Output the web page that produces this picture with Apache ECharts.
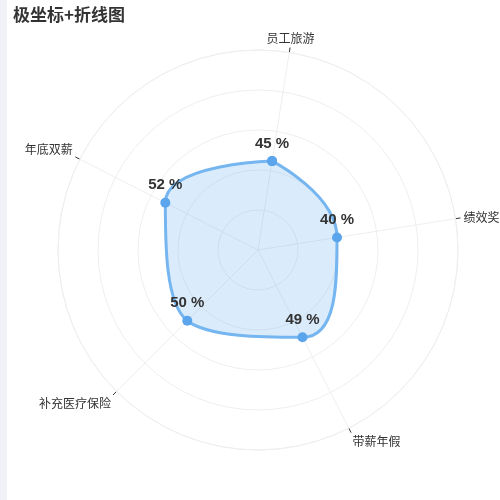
<!DOCTYPE html>
<html>
<head>
<meta charset="utf-8">
<script src="https://cdn.jsdelivr.net/npm/echarts@6/dist/echarts.min.js"></script>
<style>
html,body{margin:0;padding:0;background:#fff;}
#strip{position:absolute;left:0;top:0;width:7px;height:500px;background:#f1f2f7;}
#main{position:absolute;left:0;top:0;width:500px;height:500px;}
</style>
</head>
<body>
<div id="strip"></div>
<div id="main"></div>
<script>
const titleText = '极坐标+折线图';
const categories = ['员工旅游', '年底双薪', '补充医疗保险', '带薪年假', '绩效奖'];
const values = [45, 52, 50, 49, 40];

// closed loop: each point is [radius value, category position]; the first point is repeated one full turn later
const loopData = values.map((v, i) => [v, i]);
loopData.push([values[0], categories.length]);

const chart = echarts.init(document.getElementById('main'));
chart.setOption({
  animation: false,
  title: {
    text: titleText,
    left: 8,
    top: 1,
    textStyle: { fontSize: 17, fontWeight: 'bold', color: '#333', fontFamily: 'Noto Sans CJK SC' }
  },
  polar: { center: ['51.6%', '50%'], radius: '80%' },
  angleAxis: {
    type: 'value',
    min: 0,
    max: categories.length,
    interval: 1,
    startAngle: 81,
    clockwise: false,
    axisLine: { show: true, lineStyle: { color: '#eeeeee' } },
    axisTick: { show: true, length: 5, lineStyle: { color: '#333' } },
    axisLabel: {
      color: '#333', fontSize: 12, fontFamily: 'Noto Sans CJK SC', margin: 8,
      formatter: function (v) { return categories[v] || ''; }
    },
    splitLine: { show: true, lineStyle: { color: '#eeeeee' } }
  },
  radiusAxis: {
    min: 0,
    max: 100,
    interval: 20,
    axisLine: { show: false },
    axisTick: { show: false },
    axisLabel: { show: false },
    splitLine: { show: true, lineStyle: { color: '#eeeeee' } }
  },
  series: [{
    type: 'line',
    coordinateSystem: 'polar',
    data: loopData,
    clip: false,
    smooth: true,
    symbol: 'circle',
    symbolSize: 10,
    itemStyle: { color: '#5aa5ec' },
    lineStyle: { color: '#76b6f0', width: 3 },
    areaStyle: { color: 'rgba(90,165,236,0.32)' },
    label: {
      show: true,
      position: 'top',
      formatter: function (p) { return p.dataIndex === values.length ? '' : p.value[0] + ' %'; },
      fontSize: 15,
      fontWeight: 'bold',
      color: '#333'
    }
  }]
});
</script>
</body>
</html>
